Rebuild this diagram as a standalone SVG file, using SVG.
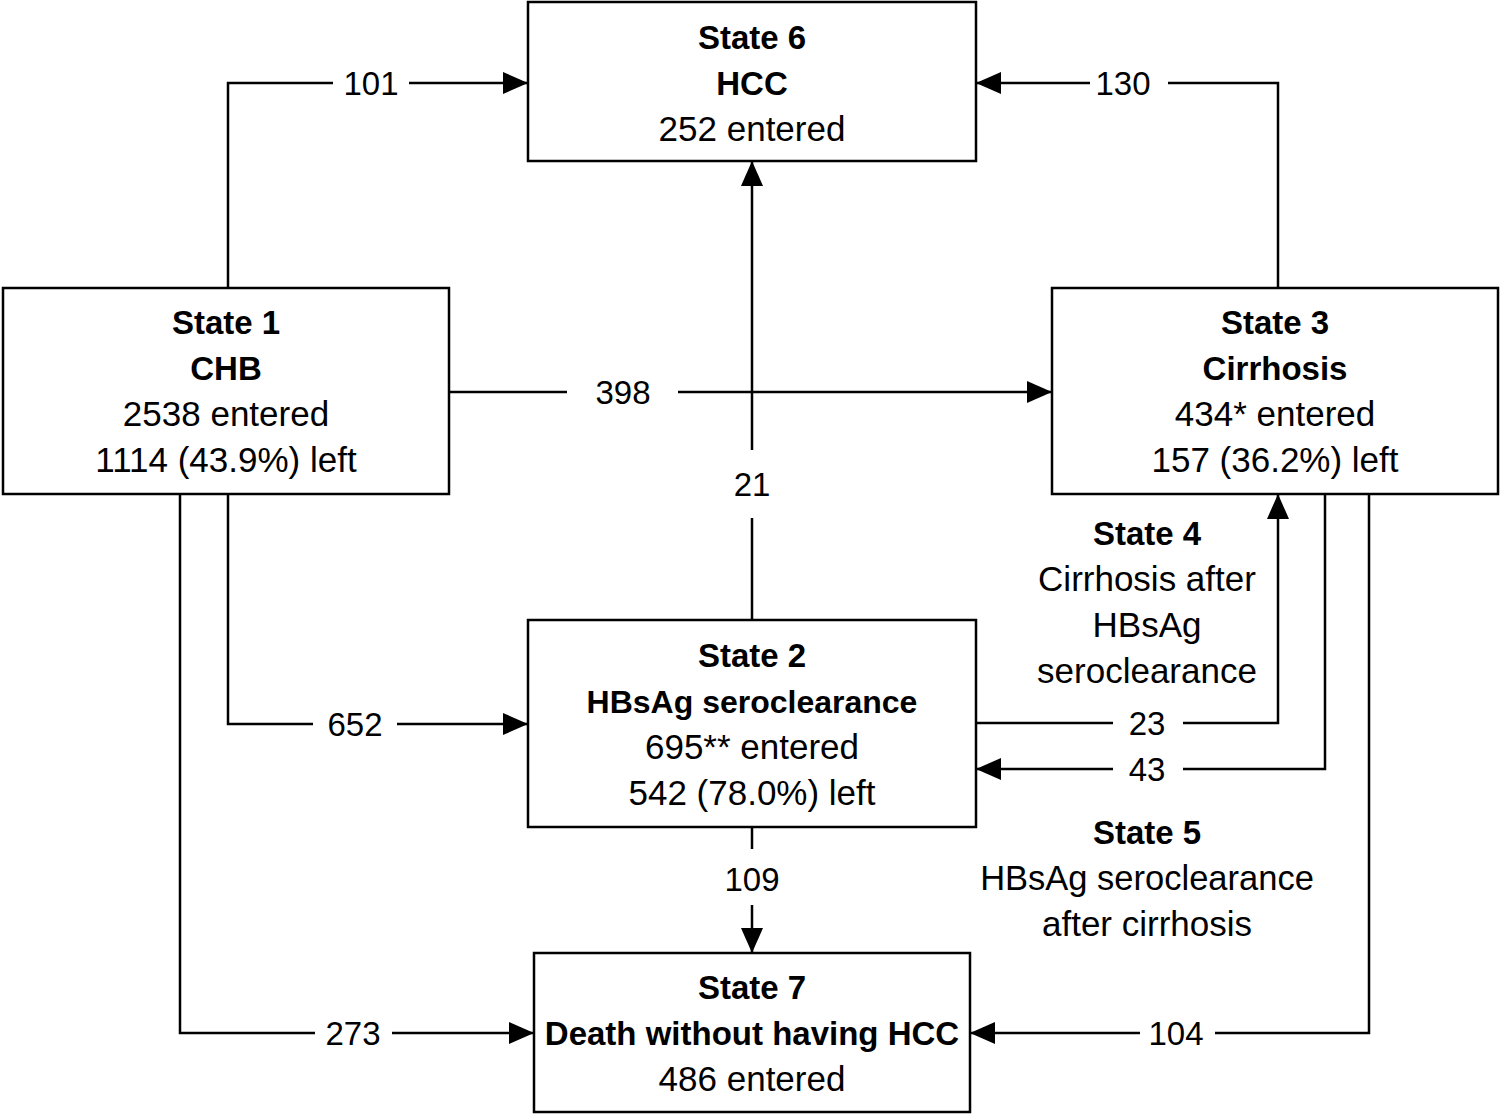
<svg xmlns="http://www.w3.org/2000/svg" width="1501" height="1116" viewBox="0 0 1501 1116">
<style>
text{font-family:"Liberation Sans",Arial,sans-serif;font-size:35px;fill:#000;text-anchor:middle}
.b{font-weight:bold;font-size:33px}
.n{font-size:33px}
.box{fill:#fff;stroke:#000;stroke-width:2.5}
.c{fill:none;stroke:#000;stroke-width:2.5}
</style>
<defs>
<marker id="ah" markerUnits="userSpaceOnUse" markerWidth="26" markerHeight="22" refX="25" refY="11" orient="auto">
<path d="M0,0 L25,11 L0,22 Z" fill="#000"/>
</marker>
</defs>
<rect width="1501" height="1116" fill="#fff"/>
<g id="connectors">
<path class="c" d="M228,288 V83 H333"/><path class="c" d="M409,83 H528" marker-end="url(#ah)"/>
<path class="c" d="M1278,288 V83 H1168"/><path class="c" d="M1090,83 H976" marker-end="url(#ah)"/>
<path class="c" d="M449,392 H567"/><path class="c" d="M678,392 H1052" marker-end="url(#ah)"/>
<path class="c" d="M752,620 V518"/><path class="c" d="M752,450 V161" marker-end="url(#ah)"/>
<path class="c" d="M228,494 V724 H313"/><path class="c" d="M397,724 H528" marker-end="url(#ah)"/>
<path class="c" d="M180,494 V1033 H315"/><path class="c" d="M392,1033 H534" marker-end="url(#ah)"/>
<path class="c" d="M752,827 V849"/><path class="c" d="M752,905 V953" marker-end="url(#ah)"/>
<path class="c" d="M976,723 H1113"/><path class="c" d="M1183,723 H1278 V494" marker-end="url(#ah)"/>
<path class="c" d="M1325,494 V769 H1183"/><path class="c" d="M1113,769 H976" marker-end="url(#ah)"/>
<path class="c" d="M1369,494 V1033 H1215"/><path class="c" d="M1140,1033 H970" marker-end="url(#ah)"/>
<text class="n" x="371" y="95">101</text>
<text class="n" x="1123" y="95">130</text>
<text class="n" x="623" y="404">398</text>
<text class="n" x="752" y="496">21</text>
<text class="n" x="355" y="736">652</text>
<text class="n" x="353" y="1045">273</text>
<text class="n" x="752" y="891">109</text>
<text class="n" x="1147" y="735">23</text>
<text class="n" x="1147" y="781">43</text>
<text class="n" x="1176" y="1045">104</text>
</g>
<g id="state6">
<rect class="box" x="528" y="2" width="448" height="159"/>
<text class="b" x="752" y="49">State 6</text>
<text class="b" x="752" y="95">HCC</text>
<text x="752" y="141">252 entered</text>
</g>
<g id="state1">
<rect class="box" x="3" y="288" width="446" height="206"/>
<text class="b" x="226" y="334">State 1</text>
<text class="b" x="226" y="380">CHB</text>
<text x="226" y="426">2538 entered</text>
<text x="226" y="472">1114 (43.9%) left</text>
</g>
<g id="state3">
<rect class="box" x="1052" y="288" width="446" height="206"/>
<text class="b" x="1275" y="334">State 3</text>
<text class="b" x="1275" y="380">Cirrhosis</text>
<text x="1275" y="426">434* entered</text>
<text x="1275" y="472">157 (36.2%) left</text>
</g>
<g id="state2">
<rect class="box" x="528" y="620" width="448" height="207"/>
<text class="b" x="752" y="667">State 2</text>
<text class="b" x="752" y="713" style="font-size:32px">HBsAg seroclearance</text>
<text x="752" y="759">695** entered</text>
<text x="752" y="805">542 (78.0%) left</text>
</g>
<g id="state7">
<rect class="box" x="534" y="953" width="436" height="159"/>
<text class="b" x="752" y="999">State 7</text>
<text class="b" x="752" y="1045">Death without having HCC</text>
<text x="752" y="1091">486 entered</text>
</g>
<g id="state4">
<text class="b" x="1147" y="545">State 4</text>
<text x="1147" y="591">Cirrhosis after</text>
<text x="1147" y="637">HBsAg</text>
<text x="1147" y="683">seroclearance</text>
</g>
<g id="state5">
<text class="b" x="1147" y="844">State 5</text>
<text x="1147" y="890" style="font-size:34.5px">HBsAg seroclearance</text>
<text x="1147" y="936">after cirrhosis</text>
</g>
</svg>
